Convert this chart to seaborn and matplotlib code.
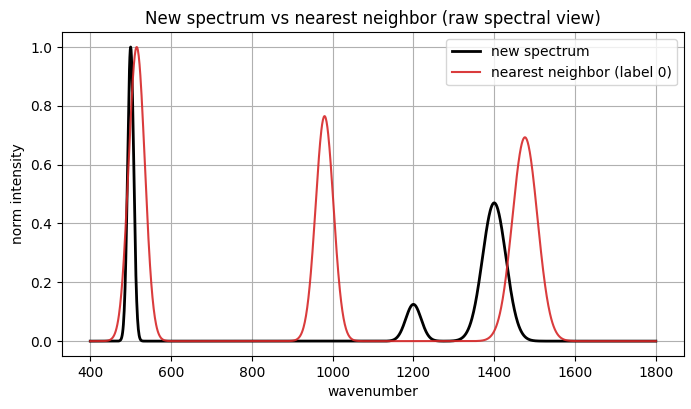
import numpy as np
import pandas as pd
import matplotlib
matplotlib.use("Agg")
import matplotlib.pyplot as plt
import seaborn as sns

# wavenumber range
wn_start, wn_stop, n_points = 400, 1800, 1401

# peak parameters (center, height, width)
new_centers = [500, 1200, 1400]
new_heights = [1.0, 0.125, 0.47]
new_widths = [7.5, 19, 29]

nn_centers = [515, 980, 1476]
nn_heights = [1.0, 0.765, 0.693]
nn_widths = [20, 22, 31]

labels = ["new spectrum", "nearest neighbor (label 0)"]
colors = ["black", "#d62728"]
lws = [2.0, 1.5]
alphas = [1.0, 0.9]

wn = np.linspace(wn_start, wn_stop, n_points)


def spectrum(centers, heights, widths):
    y = np.zeros_like(wn)
    for c, h, w in zip(centers, heights, widths):
        y += h * np.exp(-0.5 * ((wn - c) / w) ** 2)
    return y


new_spec = spectrum(new_centers, new_heights, new_widths)
nn_spec = spectrum(nn_centers, nn_heights, nn_widths)

fig = plt.figure(figsize=(6.91, 4.09), dpi=100)
ax = fig.add_axes([0.0897, 0.130, 0.9003, 0.791])

for y, lab, col, lw, a in zip([new_spec, nn_spec], labels, colors, lws, alphas):
    sns.lineplot(x=wn, y=y, ax=ax, color=col, linewidth=lw, label=lab, alpha=a)

ax.set_title("New spectrum vs nearest neighbor (raw spectral view)")
ax.set_xlabel("wavenumber")
ax.set_ylabel("norm intensity")
ax.grid(True)
ax.legend(loc="upper right")

fig.savefig("out.png", dpi=100)
